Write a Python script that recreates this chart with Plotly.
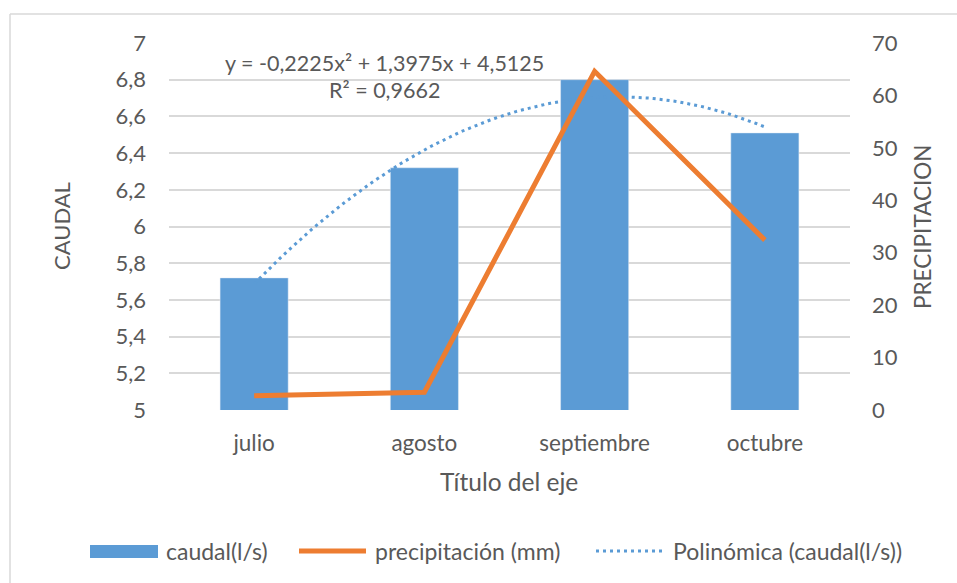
import numpy as np
import plotly.graph_objects as go

# ---- data ----
meses = ["julio", "agosto", "septiembre", "octubre"]
caudal = [5.72, 6.32, 6.80, 6.51]          # l/s (left axis)
precipitacion = [2.7, 3.4, 64.6, 32.4]     # mm (right axis)
y_ticks_left = [5, 5.2, 5.4, 5.6, 5.8, 6, 6.2, 6.4, 6.6, 6.8, 7]
y_ticks_right = [0, 10, 20, 30, 40, 50, 60, 70]
ecuacion = "y = -0,2225x² + 1,3975x + 4,5125"
r2_text = "R² = 0,9662"

# polynomial (order 2) trendline fitted to the caudal series, as in Excel
xi = np.arange(1, len(caudal) + 1)
coef = np.polyfit(xi, caudal, 2)
x_fit = np.linspace(1, len(caudal), 120)
y_fit = np.polyval(coef, x_fit)

BLUE = "#5B9BD5"
ORANGE = "#ED7D31"
TXT = "#595959"
GRID = "#D9D9D9"
FONT = "Lato"

fig = go.Figure()
fig.add_trace(go.Bar(x=list(xi - 1), y=caudal, name="caudal(l/s)", marker_color=BLUE,
                     width=0.4, yaxis="y", showlegend=False))
fig.add_trace(go.Scatter(x=list(xi - 1), y=precipitacion, name="precipitación (mm)", mode="lines",
                         line=dict(color=ORANGE, width=5), yaxis="y2", showlegend=False))
fig.add_trace(go.Scatter(x=x_fit - 1, y=y_fit, name="Polinómica (caudal(l/s))", mode="lines",
                         line=dict(color=BLUE, width=3, dash="3px,4px"), yaxis="y", showlegend=False))

OFF = 0  # page body margin removed by post_script
W, H = 957, 583
# plot area in window pixels
PX0, PX1, PY0, PY1 = 169, 850, 43, 410
L, R, T, B = PX0 - OFF, (W + OFF) - PX1, PY0 - OFF, (H + OFF) - PY1
pw, ph = PX1 - PX0, PY1 - PY0

def px(x):
    return (x - PX0) / pw

def py(y):
    return (PY1 - y) / ph

shapes = [
    # outer chart border (top and left edges visible)
    dict(type="line", xref="paper", yref="paper", x0=px(10), x1=px(960), y0=py(14), y1=py(14),
         line=dict(color=GRID, width=1.5), layer="below"),
    dict(type="line", xref="paper", yref="paper", x0=px(10), x1=px(10), y0=py(14), y1=py(590),
         line=dict(color=GRID, width=1.5), layer="below"),
    # legend symbols
    dict(type="rect", xref="paper", yref="paper", x0=px(90), x1=px(158), y0=py(558), y1=py(545),
         fillcolor=BLUE, line=dict(width=0)),
    dict(type="line", xref="paper", yref="paper", x0=px(299), x1=px(366), y0=py(551), y1=py(551),
         line=dict(color=ORANGE, width=5)),
    dict(type="line", xref="paper", yref="paper", x0=px(596), x1=px(665), y0=py(551), y1=py(551),
         line=dict(color=BLUE, width=3, dash="3px,4px")),
]

annotations = [
    dict(text=ecuacion, x=px(384), y=py(63), xref="paper", yref="paper", showarrow=False,
         font=dict(size=21.5, color=TXT, family=FONT), xanchor="center", yanchor="middle"),
    dict(text=r2_text, x=px(384), y=py(90), xref="paper", yref="paper", showarrow=False,
         font=dict(size=21.5, color=TXT, family=FONT), xanchor="center", yanchor="middle"),
    dict(text="caudal(l/s)", x=px(164), y=py(551), xref="paper", yref="paper", showarrow=False,
         font=dict(size=23, color=TXT, family=FONT), xanchor="left", yanchor="middle"),
    dict(text="precipitación (mm)", x=px(373), y=py(551), xref="paper", yref="paper", showarrow=False,
         font=dict(size=23, color=TXT, family=FONT), xanchor="left", yanchor="middle"),
    dict(text="Polinómica (caudal(l/s))", x=px(671), y=py(551), xref="paper", yref="paper", showarrow=False,
         font=dict(size=23, color=TXT, family=FONT), xanchor="left", yanchor="middle"),
    dict(text="CAUDAL", x=px(61), y=py(226), xref="paper", yref="paper", showarrow=False, textangle=-90,
         font=dict(size=22, color=TXT, family=FONT), xanchor="center", yanchor="middle"),
    dict(text="PRECIPITACION", x=px(922), y=py(227), xref="paper", yref="paper", showarrow=False, textangle=-90,
         font=dict(size=22.5, color=TXT, family=FONT), xanchor="center", yanchor="middle"),
    dict(text="Título del eje", x=px(509), y=py(481), xref="paper", yref="paper", showarrow=False,
         font=dict(size=24.5, color=TXT, family=FONT), xanchor="center", yanchor="middle"),
]

fig.update_layout(
    width=W, height=H,
    margin=dict(l=L, r=R, t=T, b=B, pad=0),
    paper_bgcolor="white", plot_bgcolor="white",
    separators=",.",
    font=dict(family=FONT, color=TXT, size=22),
    showlegend=False,
    shapes=shapes,
    annotations=annotations,
    xaxis=dict(range=[-0.5, 3.5], tickvals=list(xi - 1), ticktext=meses, showgrid=False,
               zeroline=False, showline=False, ticks="", ticklabelstandoff=17,
               tickfont=dict(size=22.5, color=TXT, family=FONT), fixedrange=True),
    yaxis=dict(range=[5, 7], tickvals=y_ticks_left, showgrid=True, gridcolor=GRID, gridwidth=1.5,
               zeroline=False, showline=False, ticks="", ticklabelstandoff=22,
               tickfont=dict(size=22, color=TXT, family=FONT)),
    yaxis2=dict(range=[0, 70], tickvals=y_ticks_right, overlaying="y", side="right", showgrid=False,
                zeroline=False, showline=False, ticks="", ticklabelstandoff=21,
                tickfont=dict(size=22, color=TXT, family=FONT)),
)

fig.write_html(
    "out.html",
    config={"displayModeBar": False},
    post_script="document.body.style.margin='0px';document.documentElement.style.overflow='hidden';",
)
